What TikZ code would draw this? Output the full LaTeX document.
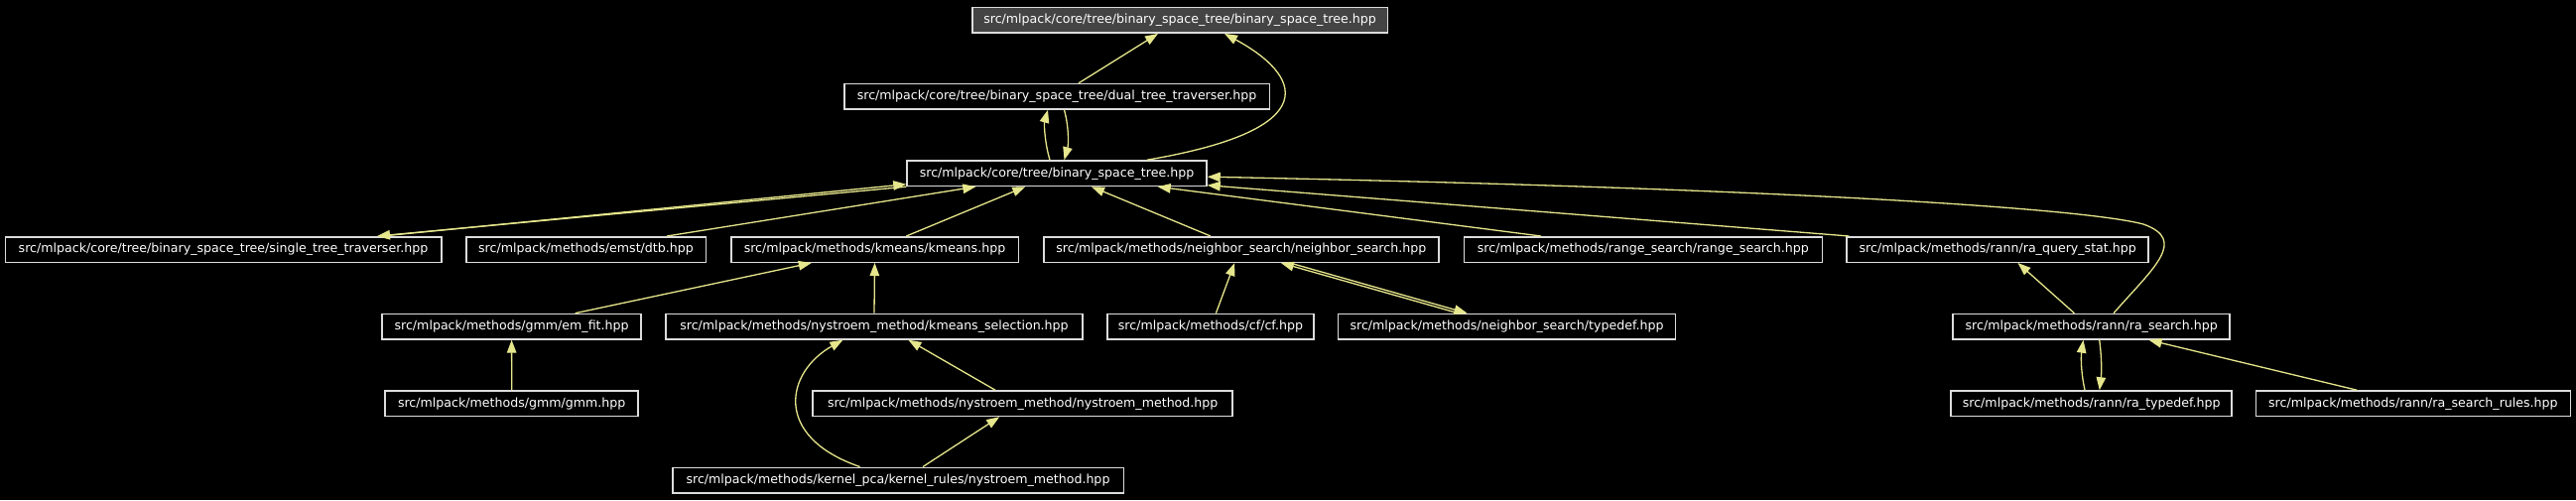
\documentclass[tikz,border=0pt]{standalone}
\usepackage{fontspec}
\setmainfont{DejaVu Sans}
\usetikzlibrary{arrows.meta,calc}
\definecolor{edgec}{RGB}{230,230,140}
\definecolor{bordc}{RGB}{220,220,220}
\definecolor{topfill}{RGB}{68,68,68}
\begin{document}
\begin{tikzpicture}[x=1pt,y=-1pt,
  box/.style={draw=bordc, line width=1.5pt, fill=black, text=white, inner sep=0pt,
    minimum height=25.5pt, font=\fontsize{12.6}{15}\selectfont},
  topbox/.style={box, fill=topfill},
  edge/.style={draw=edgec, line width=1.3pt, -{Triangle[length=13pt,width=9.5pt,fill=edgec]}},
]
\useasboundingbox (0,0) rectangle (2596,504);
\fill[black] (0,0) rectangle (2596,504);

% row 0
\node[topbox, minimum width=418.5pt] (top) at (1189,20.4) {src/mlpack/core/tree/binary\_space\_tree/binary\_space\_tree.hpp};
% row 1
\node[box, minimum width=428.5pt] (dual) at (1065,97.3) {src/mlpack/core/tree/binary\_space\_tree/dual\_tree\_traverser.hpp};
% row 2
\node[box, minimum width=302pt] (bst) at (1065,174.7) {src/mlpack/core/tree/binary\_space\_tree.hpp};
% row 3
\node[box, minimum width=439.5pt] (single) at (225,251.5) {src/mlpack/core/tree/binary\_space\_tree/single\_tree\_traverser.hpp};
\node[box, minimum width=241.5pt] (dtb) at (590.5,251.5) {src/mlpack/methods/emst/dtb.hpp};
\node[box, minimum width=289.5pt] (kmeans) at (881.5,251.5) {src/mlpack/methods/kmeans/kmeans.hpp};
\node[box, minimum width=398pt] (neighbor) at (1250.8,251.5) {src/mlpack/methods/neighbor\_search/neighbor\_search.hpp};
\node[box, minimum width=361pt] (range) at (1655.8,251.5) {src/mlpack/methods/range\_search/range\_search.hpp};
\node[box, minimum width=304pt] (raq) at (2013.2,251.5) {src/mlpack/methods/rann/ra\_query\_stat.hpp};
% row 4
\node[box, minimum width=261pt] (emfit) at (515.6,329.2) {src/mlpack/methods/gmm/em\_fit.hpp};
\node[box, minimum width=420pt] (kmsel) at (881,329.2) {src/mlpack/methods/nystroem\_method/kmeans\_selection.hpp};
\node[box, minimum width=208pt] (cf) at (1219.9,329.2) {src/mlpack/methods/cf/cf.hpp};
\node[box, minimum width=340pt] (typedef) at (1518.5,329.2) {src/mlpack/methods/neighbor\_search/typedef.hpp};
\node[box, minimum width=279pt] (ras) at (2107.7,329.2) {src/mlpack/methods/rann/ra\_search.hpp};
% row 5
\node[box, minimum width=255pt] (gmm) at (515.7,406.7) {src/mlpack/methods/gmm/gmm.hpp};
\node[box, minimum width=423pt] (nysm) at (1030.7,406.7) {src/mlpack/methods/nystroem\_method/nystroem\_method.hpp};
\node[box, minimum width=283pt] (rat) at (2107.7,406.7) {src/mlpack/methods/rann/ra\_typedef.hpp};
\node[box, minimum width=317pt] (rsr) at (2431.9,406.7) {src/mlpack/methods/rann/ra\_search\_rules.hpp};
% row 6
\node[box, minimum width=454.5pt] (kr) at (905,484) {src/mlpack/methods/kernel\_pca/kernel\_rules/nystroem\_method.hpp};

% edges to top
\draw[edge] ($(dual.north)+(22,0)$) -- ($(top.south)+(-22,0)$);
\draw[edge] ($(bst.north)+(91,0)$) .. controls (1340,130) and (1310,75) .. ($(top.south)+(45,0)$);
% dual <-> bst
\draw[edge] ($(bst.north)+(-7,0)$) .. controls (1053,145) and (1052,125) .. ($(dual.south)+(-9,0)$);
\draw[edge] ($(dual.south)+(7.5,0)$) .. controls (1077,127) and (1077,145) .. ($(bst.north)+(7.5,0)$);
% bst <-> single
\draw[edge] (bst.south west) -- ($(single.north)+(155,0)$);
\draw[edge] ($(single.north)+(160,0)$) -- ($(bst.south west)+(0,-2.5)$);
% row 3 to bst
\draw[edge] ($(dtb.north)+(81.5,0)$) -- ($(bst.south)+(-81.7,0)$);
\draw[edge] ($(kmeans.north)+(31.8,0)$) -- ($(bst.south)+(-31.7,0)$);
\draw[edge] ($(neighbor.north)+(-30.8,0)$) -- ($(bst.south)+(35,0)$);
\draw[edge] ($(range.north)+(-102.8,0)$) -- ($(bst.south)+(101.7,0)$);
\draw[edge] ($(raq.north west)+(3,0)$) -- ($(bst.east)+(0,12)$);
\draw[edge] ($(ras.north)+(22.3,0)$) .. controls (2170,270) and (2205,242) .. (2160,226)
  .. controls (2100,210) and (1800,190) .. ($(bst.east)+(0,3.5)$);
% row 4 up
\draw[edge] ($(emfit.north)+(64,0)$) -- ($(kmeans.south)+(-63.7,0)$);
\draw[edge] (kmsel.north) -- (kmeans.south);
\draw[edge] ($(cf.north)+(5.5,0)$) -- ($(neighbor.south)+(-6.6,0)$);
\draw[edge] ($(typedef.north)+(-49,0)$) -- ($(neighbor.south)+(40,0)$);
\draw[edge] ($(neighbor.south)+(49,0)$) -- ($(typedef.north)+(-40,0)$);
\draw[edge] ($(ras.north)+(-17.3,0)$) -- ($(raq.south)+(20.3,0)$);
% row 5 up
\draw[edge] (gmm.north) -- (emfit.south);
\draw[edge] ($(nysm.north)+(-27.7,0)$) -- ($(kmsel.south)+(34.4,0)$);
\draw[edge] ($(rat.north)+(-6.7,0)$) .. controls (2097,375) and (2097,360) .. ($(ras.south)+(-8.2,0)$);
\draw[edge] ($(ras.south)+(8,0)$) .. controls (2118,360) and (2118,375) .. ($(rat.north)+(8.1,0)$);
\draw[edge] ($(rsr.north)+(-56.7,0)$) -- ($(ras.south)+(57.8,0)$);
% row 6 up
\draw[edge] ($(kr.north)+(-38.4,0)$) .. controls (778,440) and (792,375) .. ($(kmsel.south)+(-31.6,0)$);
\draw[edge] ($(kr.north)+(25,0)$) -- ($(nysm.south)+(-23.5,0)$);
\end{tikzpicture}
\end{document}
